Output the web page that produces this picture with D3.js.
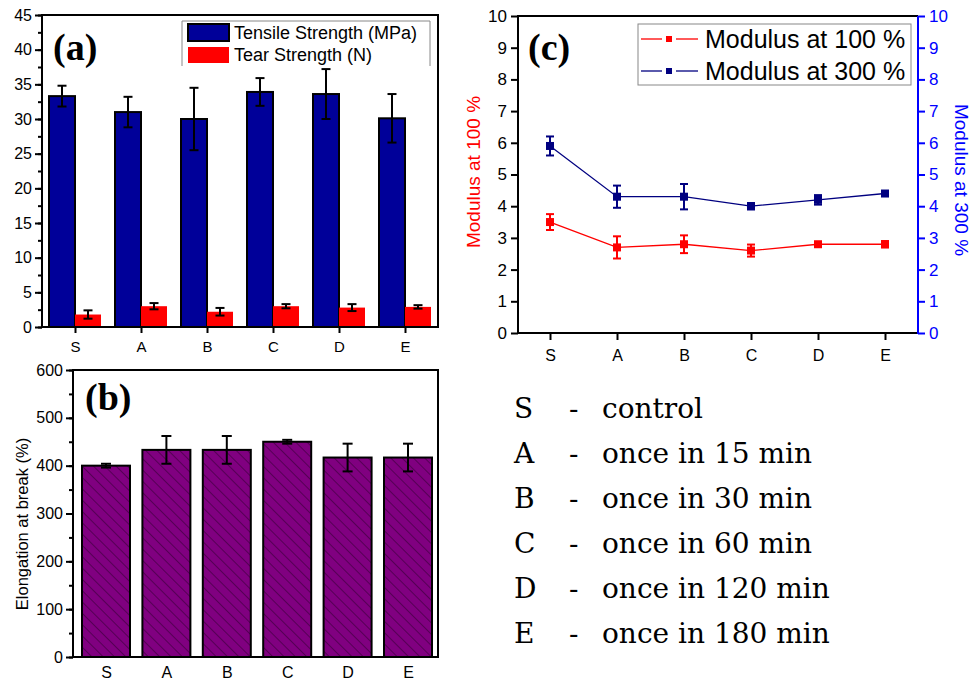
<!DOCTYPE html>
<html>
<head>
<meta charset="utf-8">
<script src="https://cdn.jsdelivr.net/npm/d3@7"></script>
<style>
  body { margin: 0; background: #fff; }
  text { font-family: Arial, "Liberation Sans", sans-serif; }
  text.serif { font-family: "Liberation Serif", "Times New Roman", serif; }
  text.key { font-family: "DejaVu Serif", serif; }
</style>
</head>
<body>
<script>
// data
var cats = ["S", "A", "B", "C", "D", "E"];

var tensile    = [33.3, 31.0, 30.0, 33.9, 33.6, 30.1];
var tensileErr = [1.5, 2.2, 4.5, 2.0, 3.6, 3.5];
var tear       = [1.8, 3.0, 2.2, 3.0, 2.8, 2.9];
var tearErr    = [0.6, 0.45, 0.55, 0.3, 0.5, 0.25];

var elong    = [400, 433, 433, 450, 417, 417];
var elongErr = [4, 29, 29, 4, 29, 29];

var mod100    = [3.5, 2.7, 2.8, 2.6, 2.8, 2.8];
var mod100Err = [0.25, 0.35, 0.28, 0.19, 0.05, 0.1];
var mod300    = [5.9, 4.3, 4.3, 4.0, 4.2, 4.4];
var mod300Err = [0.3, 0.35, 0.4, 0.1, 0.15, 0.05];

var legendLines = [
  ["S", "control"],
  ["A", "once in 15 min"],
  ["B", "once in 30 min"],
  ["C", "once in 60 min"],
  ["D", "once in 120 min"],
  ["E", "once in 180 min"]
];

var W = 972, H = 683;
var svg = d3.select("body").append("svg")
  .attr("width", W).attr("height", H);

svg.append("rect").attr("width", W).attr("height", H).attr("fill", "#fff");

var defs = svg.append("defs");
var pat = defs.append("pattern")
  .attr("id", "hatch")
  .attr("patternUnits", "userSpaceOnUse")
  .attr("width", 8).attr("height", 8)
  .attr("patternTransform", "rotate(-45)");
pat.append("rect").attr("width", 8).attr("height", 8).attr("fill", "#800080");
pat.append("line").attr("x1", 0).attr("y1", 0).attr("x2", 0).attr("y2", 8)
  .attr("stroke", "#2a002a").attr("stroke-width", 1);

function errBars(g, xs, ys, vals, errs, cap, color) {
  var sel = g.selectAll(null).data(vals).enter().append("g")
    .attr("stroke", color).attr("stroke-width", 2);
  sel.append("line")
    .attr("x1", function(d, i) { return xs(i); })
    .attr("x2", function(d, i) { return xs(i); })
    .attr("y1", function(d, i) { return ys(d - errs[i]); })
    .attr("y2", function(d, i) { return ys(d + errs[i]); });
  [-1, 1].forEach(function(s) {
    sel.append("line")
      .attr("x1", function(d, i) { return xs(i) - cap / 2; })
      .attr("x2", function(d, i) { return xs(i) + cap / 2; })
      .attr("y1", function(d, i) { return ys(d + s * errs[i]); })
      .attr("y2", function(d, i) { return ys(d + s * errs[i]); });
  });
}

function styleAxis(g, size, color) {
  g.selectAll(".domain").remove();
  g.selectAll("line").attr("stroke", color || "#000").attr("stroke-width", 2);
  g.selectAll("text").attr("font-size", size).attr("fill", color || "#000");
}

// ---------- panel (a) ----------
var xa = d3.scalePoint().domain(cats).range([75, 405]);
var ya = d3.scaleLinear().domain([0, 45]).range([327, 15]);
var ga = svg.append("g");

ga.append("g").attr("transform", "translate(42,0)")
  .call(d3.axisLeft(ya).tickValues(d3.range(0, 45.1, 2.5)).tickSize(4).tickFormat(""))
  .call(styleAxis, 16);
ga.append("g").attr("transform", "translate(42,0)")
  .call(d3.axisLeft(ya).tickValues(d3.range(0, 46, 5)).tickSize(7).tickPadding(3))
  .call(styleAxis, 16);
ga.append("g").attr("transform", "translate(0,327)")
  .call(d3.axisBottom(xa).tickSize(6).tickPadding(8))
  .call(styleAxis, 15);

ga.selectAll(".ts").data(tensile).enter().append("rect")
  .attr("x", function(d, i) { return xa(cats[i]) - 26; })
  .attr("y", function(d) { return ya(d); })
  .attr("width", 26)
  .attr("height", function(d) { return ya(0) - ya(d); })
  .attr("fill", "#000099").attr("stroke", "#000").attr("stroke-width", 2);
ga.selectAll(".tr").data(tear).enter().append("rect")
  .attr("x", function(d, i) { return xa(cats[i]); })
  .attr("y", function(d) { return ya(d); })
  .attr("width", 26)
  .attr("height", function(d) { return ya(0) - ya(d); })
  .attr("fill", "#ff0000");

errBars(ga, function(i) { return xa(cats[i]) - 13; }, ya, tensile, tensileErr, 9, "#000");
errBars(ga, function(i) { return xa(cats[i]) + 13; }, ya, tear, tearErr, 9, "#000");

ga.append("rect").attr("x", 42).attr("y", 15).attr("width", 396).attr("height", 312)
  .attr("fill", "none").attr("stroke", "#000").attr("stroke-width", 2);

ga.append("path").attr("d", "M182,66V21H430V66")
  .attr("fill", "none").attr("stroke", "#888").attr("stroke-width", 1);
ga.append("rect").attr("x", 188).attr("y", 24).attr("width", 41).attr("height", 17)
  .attr("fill", "#000099").attr("stroke", "#000").attr("stroke-width", 2);
ga.append("rect").attr("x", 188).attr("y", 47).attr("width", 41).attr("height", 16)
  .attr("fill", "#ff0000");
ga.append("text").attr("x", 234).attr("y", 39).attr("font-size", 18).text("Tensile Strength (MPa)");
ga.append("text").attr("x", 234).attr("y", 61).attr("font-size", 18).text("Tear Strength (N)");
ga.append("text").attr("class", "serif").attr("x", 53).attr("y", 60)
  .attr("font-weight", "bold").attr("font-size", 38).text("(a)");

// ---------- panel (b) ----------
var xb = d3.scalePoint().domain(cats).range([106, 408]);
var yb = d3.scaleLinear().domain([0, 600]).range([657, 370]);
var gb = svg.append("g");

gb.append("g").attr("transform", "translate(73,0)")
  .call(d3.axisLeft(yb).tickValues(d3.range(0, 601, 50)).tickSize(4).tickFormat(""))
  .call(styleAxis, 16);
gb.append("g").attr("transform", "translate(73,0)")
  .call(d3.axisLeft(yb).tickValues(d3.range(0, 601, 100)).tickSize(7).tickPadding(3))
  .call(styleAxis, 16);
gb.append("g").attr("transform", "translate(0,657)")
  .call(d3.axisBottom(xb).tickSize(0).tickPadding(10))
  .call(styleAxis, 16);

gb.selectAll(".el").data(elong).enter().append("rect")
  .attr("x", function(d, i) { return xb(cats[i]) - 24; })
  .attr("y", function(d) { return yb(d); })
  .attr("width", 48)
  .attr("height", function(d) { return yb(0) - yb(d); })
  .attr("fill", "url(#hatch)").attr("stroke", "#000").attr("stroke-width", 2);

errBars(gb, function(i) { return xb(cats[i]); }, yb, elong, elongErr, 10, "#000");

gb.append("rect").attr("x", 73).attr("y", 370).attr("width", 365).attr("height", 287)
  .attr("fill", "none").attr("stroke", "#000").attr("stroke-width", 2);
gb.append("text").attr("transform", "translate(28,524) rotate(-90)")
  .attr("text-anchor", "middle").attr("font-size", 16.5).text("Elongation at break (%)");
gb.append("text").attr("class", "serif").attr("x", 85).attr("y", 410)
  .attr("font-weight", "bold").attr("font-size", 38).text("(b)");

// ---------- panel (c) ----------
var xc = d3.scalePoint().domain(cats).range([550, 885]);
var yc = d3.scaleLinear().domain([0, 10]).range([333, 16]);
var gc = svg.append("g");

gc.append("g").attr("transform", "translate(518,0)")
  .call(d3.axisLeft(yc).ticks(10).tickSize(7).tickPadding(4))
  .call(styleAxis, 17);
gc.append("g").attr("transform", "translate(918,0)")
  .call(d3.axisRight(yc).ticks(10).tickSize(7).tickPadding(4))
  .call(styleAxis, 17, "#0000ff");
gc.append("g").attr("transform", "translate(0,333)")
  .call(d3.axisBottom(xc).tickSize(7).tickPadding(10))
  .call(styleAxis, 16);

gc.append("path").attr("d", "M518,333V16H918")
  .attr("fill", "none").attr("stroke", "#000").attr("stroke-width", 2);
gc.append("line").attr("x1", 518).attr("x2", 918).attr("y1", 333).attr("y2", 333)
  .attr("stroke", "#000").attr("stroke-width", 2);
gc.append("line").attr("x1", 918).attr("x2", 918).attr("y1", 16).attr("y2", 334)
  .attr("stroke", "#0000ff").attr("stroke-width", 2);

function series(vals, errs, color) {
  var line = d3.line()
    .x(function(d, i) { return xc(cats[i]); })
    .y(function(d) { return yc(d); });
  gc.append("path").datum(vals).attr("d", line)
    .attr("fill", "none").attr("stroke", color).attr("stroke-width", 1.3);
  errBars(gc, function(i) { return xc(cats[i]); }, yc, vals, errs, 8, color);
  gc.selectAll(null).data(vals).enter().append("rect")
    .attr("x", function(d, i) { return xc(cats[i]) - 4; })
    .attr("y", function(d) { return yc(d) - 4; })
    .attr("width", 8).attr("height", 8).attr("fill", color);
}
series(mod100, mod100Err, "#ff0000");
series(mod300, mod300Err, "#000080");

gc.append("rect").attr("x", 638).attr("y", 24).attr("width", 273).attr("height", 61)
  .attr("fill", "#fff").attr("stroke", "#888").attr("stroke-width", 1);
[["Modulus at 100 %", "#ff0000", 48], ["Modulus at 300 %", "#000080", 80]].forEach(function(l) {
  var yy = l[2] - 9;
  gc.append("line").attr("x1", 641).attr("x2", 662).attr("y1", yy).attr("y2", yy)
    .attr("stroke", l[1]).attr("stroke-width", 1.3);
  gc.append("line").attr("x1", 676).attr("x2", 698).attr("y1", yy).attr("y2", yy)
    .attr("stroke", l[1]).attr("stroke-width", 1.3);
  gc.append("rect").attr("x", 666).attr("y", yy - 3).attr("width", 6).attr("height", 6)
    .attr("fill", l[1]);
  gc.append("text").attr("x", 705).attr("y", l[2]).attr("font-size", 25).text(l[0]);
});

gc.append("text").attr("transform", "translate(480,172) rotate(-90)")
  .attr("text-anchor", "middle").attr("font-size", 19).attr("fill", "#ff0000")
  .text("Modulus at 100 %");
gc.append("text").attr("transform", "translate(955,180) rotate(90)")
  .attr("text-anchor", "middle").attr("font-size", 19).attr("fill", "#0000ff")
  .text("Modulus at 300 %");
gc.append("text").attr("class", "serif").attr("x", 528).attr("y", 60)
  .attr("font-weight", "bold").attr("font-size", 38).text("(c)");

// ---------- key ----------
var gk = svg.append("g");
gk.selectAll(null).data(legendLines).enter().append("text")
  .attr("class", "key").attr("font-size", 28)
  .attr("x", 514).attr("y", function(d, i) { return 418 + i * 45; })
  .text(function(d) { return d[0]; });
gk.selectAll(null).data(legendLines).enter().append("text")
  .attr("class", "key").attr("font-size", 28)
  .attr("x", 569).attr("y", function(d, i) { return 418 + i * 45; })
  .text("-");
gk.selectAll(null).data(legendLines).enter().append("text")
  .attr("class", "key").attr("font-size", 28)
  .attr("x", 602).attr("y", function(d, i) { return 418 + i * 45; })
  .text(function(d) { return d[1]; });
</script>
</body>
</html>
